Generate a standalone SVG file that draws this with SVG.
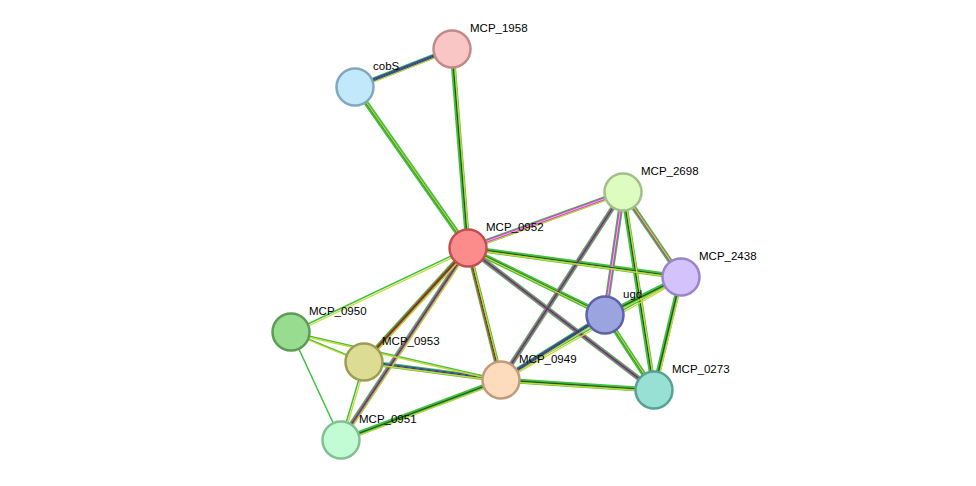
<svg xmlns="http://www.w3.org/2000/svg" width="976" height="486" viewBox="0 0 976 486">
<style>
.n{stroke-width:2.5}
text{font-family:"Liberation Sans",Arial,sans-serif;font-size:11.5px;fill:#000}
.g{stroke:#3ec13e;stroke-width:5;fill:none}
.y{stroke:#c9d63a;stroke-width:1.3;fill:none}
.d{stroke:#2a4a2a;stroke-width:1.2;fill:none}
.m{stroke:#d23fd2;stroke-width:3;fill:none}
.b{stroke:#3a3ae0;stroke-width:3;fill:none}
.r{stroke:#e83a3a;stroke-width:3;fill:none}
.w{stroke:#fff;stroke-width:0.6;fill:none}
</style>
<rect width="976" height="486" fill="#fff"/>
<g id="connectors">
<!-- green+dark+yellow generic -->
<g class="g">
<line x1="452" y1="49" x2="355" y2="87"/><line x1="452" y1="49" x2="468" y2="248"/><line x1="355" y1="87" x2="468" y2="248"/>
<line x1="468" y1="248" x2="623" y2="192"/><line x1="468" y1="248" x2="681" y2="277"/><line x1="468" y1="248" x2="605" y2="315"/>
<line x1="468" y1="248" x2="654" y2="390"/><line x1="468" y1="248" x2="501" y2="380"/><line x1="468" y1="248" x2="364" y2="362"/>
<line x1="468" y1="248" x2="341" y2="440"/><line x1="623" y1="192" x2="681" y2="277"/><line x1="623" y1="192" x2="605" y2="315"/>
<line x1="623" y1="192" x2="501" y2="380"/><line x1="623" y1="192" x2="654" y2="390"/><line x1="681" y1="277" x2="605" y2="315"/>
<line x1="681" y1="277" x2="654" y2="390"/><line x1="605" y1="315" x2="501" y2="380"/><line x1="605" y1="315" x2="654" y2="390"/>
<line x1="501" y1="380" x2="654" y2="390"/><line x1="501" y1="380" x2="364" y2="362"/><line x1="501" y1="380" x2="341" y2="440"/>
</g>
<g stroke="#3ec13e" stroke-width="1.5" fill="none">
<line x1="468" y1="248" x2="291" y2="332"/><line x1="681" y1="277" x2="501" y2="380"/><line x1="501" y1="380" x2="291" y2="332"/>
<line x1="291" y1="332" x2="364" y2="362"/><line x1="291" y1="332" x2="341" y2="440"/><line x1="364" y1="362" x2="341" y2="440"/>
</g>
<g class="m">
<line x1="468" y1="248" x2="623" y2="192"/><line x1="468" y1="248" x2="654" y2="390"/><line x1="468" y1="248" x2="341" y2="440"/>
<line x1="623" y1="192" x2="681" y2="277"/><line x1="623" y1="192" x2="605" y2="315"/><line x1="623" y1="192" x2="501" y2="380"/>
</g>
<g class="b"><line x1="452" y1="49" x2="355" y2="87"/><line x1="605" y1="315" x2="501" y2="380"/><line x1="501" y1="380" x2="364" y2="362"/></g>
<g class="r"><line x1="468" y1="248" x2="501" y2="380"/><line x1="468" y1="248" x2="364" y2="362"/></g>
<g class="w">
<line x1="468" y1="248" x2="623" y2="192"/><line x1="468" y1="248" x2="654" y2="390"/><line x1="468" y1="248" x2="341" y2="440"/>
<line x1="623" y1="192" x2="681" y2="277"/><line x1="623" y1="192" x2="605" y2="315"/><line x1="623" y1="192" x2="501" y2="380"/>
<line x1="452" y1="49" x2="355" y2="87"/><line x1="605" y1="315" x2="501" y2="380"/><line x1="501" y1="380" x2="364" y2="362"/>
<line x1="468" y1="248" x2="501" y2="380"/><line x1="468" y1="248" x2="364" y2="362"/>
</g>
<g class="d">
<line x1="452" y1="49" x2="355" y2="87"/><line x1="452" y1="49" x2="468" y2="248"/><line x1="355" y1="87" x2="468" y2="248"/>
<line x1="468" y1="248" x2="681" y2="277"/><line x1="468" y1="248" x2="605" y2="315"/>
<line x1="468" y1="248" x2="654" y2="390"/><line x1="468" y1="248" x2="501" y2="380"/><line x1="468" y1="248" x2="364" y2="362"/>
<line x1="468" y1="248" x2="341" y2="440"/><line x1="623" y1="192" x2="681" y2="277"/>
<line x1="623" y1="192" x2="501" y2="380"/><line x1="623" y1="192" x2="654" y2="390"/><line x1="681" y1="277" x2="605" y2="315"/>
<line x1="681" y1="277" x2="654" y2="390"/><line x1="605" y1="315" x2="501" y2="380"/><line x1="605" y1="315" x2="654" y2="390"/>
<line x1="501" y1="380" x2="654" y2="390"/><line x1="501" y1="380" x2="364" y2="362"/><line x1="501" y1="380" x2="341" y2="440"/>
</g>
<g class="y" transform="translate(1.5,1.5)">
<line x1="452" y1="49" x2="355" y2="87"/><line x1="452" y1="49" x2="468" y2="248"/><line x1="355" y1="87" x2="468" y2="248"/>
<line x1="468" y1="248" x2="623" y2="192"/><line x1="468" y1="248" x2="681" y2="277"/><line x1="468" y1="248" x2="605" y2="315"/>
<line x1="468" y1="248" x2="501" y2="380"/><line x1="468" y1="248" x2="364" y2="362"/>
<line x1="468" y1="248" x2="341" y2="440"/><line x1="468" y1="248" x2="291" y2="332"/><line x1="623" y1="192" x2="681" y2="277"/>
<line x1="623" y1="192" x2="654" y2="390"/><line x1="681" y1="277" x2="605" y2="315"/>
<line x1="681" y1="277" x2="654" y2="390"/><line x1="681" y1="277" x2="501" y2="380"/><line x1="605" y1="315" x2="501" y2="380"/><line x1="605" y1="315" x2="654" y2="390"/>
<line x1="501" y1="380" x2="654" y2="390"/><line x1="501" y1="380" x2="364" y2="362"/><line x1="501" y1="380" x2="291" y2="332"/><line x1="501" y1="380" x2="341" y2="440"/>
<line x1="291" y1="332" x2="364" y2="362"/><line x1="364" y1="362" x2="341" y2="440"/>
</g>
</g>
<g id="MCP_1958"><circle class="n" cx="452" cy="49" r="18.5" fill="#f9c5c5" stroke="#c08a8a"/><text x="470" y="32">MCP_1958</text></g>
<g id="cobS"><circle class="n" cx="355" cy="87" r="18.5" fill="#c2e8fc" stroke="#82a8c0"/><text x="373" y="70">cobS</text></g>
<g id="MCP_2698"><circle class="n" cx="623" cy="192" r="18.5" fill="#dcfcc0" stroke="#a0c088"/><text x="641" y="175">MCP_2698</text></g>
<g id="MCP_0952"><circle class="n" cx="468" cy="248" r="18.5" fill="#fc8c8c" stroke="#c05050"/><text x="486" y="231">MCP_0952</text></g>
<g id="MCP_2438"><circle class="n" cx="681" cy="277" r="18.5" fill="#d4c2fc" stroke="#9c84c8"/><text x="699" y="260">MCP_2438</text></g>
<g id="ugd"><circle class="n" cx="605" cy="315" r="18.5" fill="#9ca4e0" stroke="#5a62a8"/><text x="623" y="298">ugd</text></g>
<g id="MCP_0950"><circle class="n" cx="291" cy="332" r="18.5" fill="#98dc90" stroke="#5c9c54"/><text x="309" y="315">MCP_0950</text></g>
<g id="MCP_0953"><circle class="n" cx="364" cy="362" r="18.5" fill="#dcdc94" stroke="#9c9c52"/><text x="382" y="345">MCP_0953</text></g>
<g id="MCP_0949"><circle class="n" cx="501" cy="380" r="18.5" fill="#fcdcbc" stroke="#c09c7c"/><text x="519" y="363">MCP_0949</text></g>
<g id="MCP_0273"><circle class="n" cx="654" cy="390" r="18.5" fill="#98e0d4" stroke="#5aa094"/><text x="672" y="373">MCP_0273</text></g>
<g id="MCP_0951"><circle class="n" cx="341" cy="440" r="18.5" fill="#c2fcd4" stroke="#82c094"/><text x="359" y="423">MCP_0951</text></g>
</svg>
